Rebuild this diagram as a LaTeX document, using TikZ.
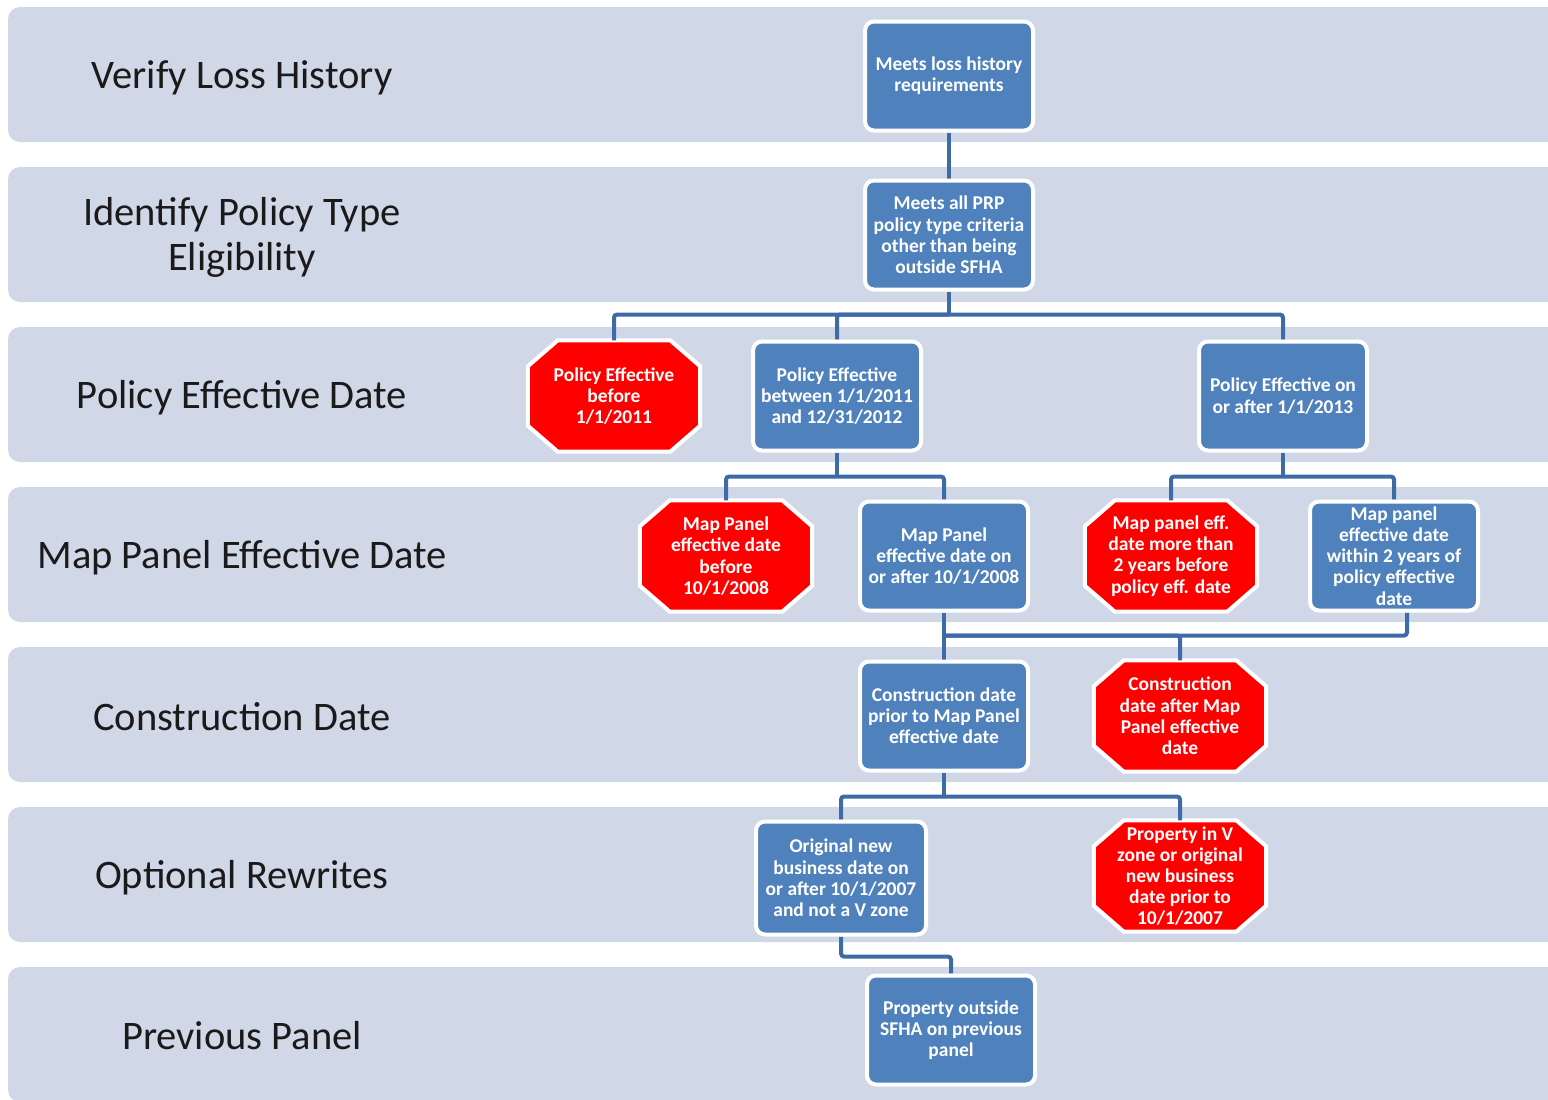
\documentclass[tikz,border=0pt]{standalone}
\usepackage{fontspec}
\setmainfont{Carlito}
\pgfdeclarelayer{bands}
\pgfdeclarelayer{mid}
\pgfsetlayers{bands,mid,main}
\definecolor{bandc}{HTML}{D0D8E8}
\definecolor{boxc}{HTML}{4F81BD}
\definecolor{linec}{HTML}{3D6BA6}
\definecolor{stopc}{HTML}{FF0000}
\definecolor{labc}{HTML}{1A1A1A}
\tikzset{
  band/.style={fill=bandc, rounded corners=12pt},
  lab/.style={font=\fontsize{40.5}{45}\selectfont, align=center, text=labc, inner sep=0pt},
  okbox/.style={draw=white, line width=4pt, fill=boxc, rounded corners=9pt,
    minimum width=168pt, minimum height=109pt, align=center, text=white,
    font=\bfseries\fontsize{19.5}{21.2}\selectfont, inner sep=1pt},
  stopbox/.style={minimum width=172pt, minimum height=111pt, align=center, text=white,
    font=\bfseries\fontsize{19.5}{21.2}\selectfont, inner sep=1pt},
  octo/.style={draw=white, line width=4pt, fill=stopc, line join=miter},
  conn/.style={draw=linec, line width=4pt, rounded corners=3pt},
}
\newcommand\octofill[1]{%
  \path[octo] ([xshift=30pt]#1.north west) -- ([xshift=-30pt]#1.north east)
    -- ([yshift=-26pt]#1.north east) -- ([yshift=26pt]#1.south east)
    -- ([xshift=-30pt]#1.south east) -- ([xshift=30pt]#1.south west)
    -- ([yshift=26pt]#1.south west) -- ([yshift=-26pt]#1.north west) -- cycle;}
\begin{document}
\begin{tikzpicture}[x=1pt,y=-1pt]
\useasboundingbox (0,0) rectangle (1548,1100);
\begin{pgfonlayer}{bands}
\foreach \yy in {7,167,327,487,647,807,967}
  \fill[band] (8,\yy) rectangle (1590,\yy+135);
\end{pgfonlayer}

% lane labels
\node[lab] (l1) at (242,78)  {Verify Loss History};
\node[lab] (l2) at (242,237) {Identify Policy Type\\Eligibility};
\node[lab] (l3) at (242,398) {Policy Effective Date};
\node[lab] (l4) at (242,558) {Map Panel Effective Date};
\node[lab] (l5) at (242,717) {Construction Date};
\node[lab] (l6) at (242,878) {Optional Rewrites};
\node[lab] (l7) at (242,1036) {Previous Panel};

% boxes
\node[okbox] (n1) at (949,76) {Meets loss history\\requirements};
\node[okbox] (n2) at (949,235) {Meets all PRP\\policy type criteria\\other than being\\outside SFHA};
\node[stopbox] (n3) at (614,396) {Policy Effective\\before\\1/1/2011};
\node[okbox] (n4) at (837,396) {Policy Effective\\between 1/1/2011\\and 12/31/2012};
\node[okbox] (n5) at (1283,396) {Policy Effective on\\or after 1/1/2013};
\node[stopbox] (n6) at (726,556) {Map Panel\\effective date\\before\\10/1/2008};
\node[okbox] (n7) at (944,556) {Map Panel\\effective date on\\or after 10/1/2008};
\node[stopbox] (n8) at (1171,556) {Map panel eff.\\date more than\\2 years before\\policy eff. date};
\node[okbox] (n9) at (1394,556) {Map panel\\effective date\\within 2 years of\\policy effective\\date};
\node[okbox] (n10) at (944,716) {Construction date\\prior to Map Panel\\effective date};
\node[stopbox] (n11) at (1180,716) {Construction\\date after Map\\Panel effective\\date};
\node[okbox, minimum width=170pt, minimum height=113pt] (n12) at (841,878) {Original new\\business date on\\or after 10/1/2007\\and not a V zone};
\node[stopbox] (n13) at (1180,876) {Property in V\\zone or original\\new business\\date prior to\\10/1/2007};
\node[okbox] (n14) at (951,1030) {Property outside\\SFHA on previous\\panel};

\begin{pgfonlayer}{mid}
\octofill{n3}
\octofill{n6}
\octofill{n8}
\octofill{n11}
\octofill{n13}
% connectors
\draw[conn] (n1.south) -- (n2.north);
\draw[conn] (n2.south) -- ++(0,23) coordinate (b1);
\draw[conn] (n3.north) |- (b1) -| (n5.north);
\draw[conn] (n4.north) |- (b1);
\draw[conn] (n4.south) -- ++(0,24) coordinate (b2);
\draw[conn] (n6.north) |- (b2) -| (n7.north);
\draw[conn] (n5.south) -- ++(0,24) coordinate (b3);
\draw[conn] (n8.north) |- (b3) -| (n9.north);
\draw[conn] (n7.south) -- (n10.north);
\path (n7.south) ++(0,23) coordinate (b4);
\draw[conn] ([xshift=13pt]n9.south) |- (b4);
\draw[conn] (n11.north) |- (b4);
\draw[conn] (n10.south) -- ++(0,24) coordinate (b5);
\draw[conn] (n12.north) |- (b5) -| (n13.north);
\draw[conn] (n12.south) -- ++(0,20) -| (n14.north);
\end{pgfonlayer}
\end{tikzpicture}
\end{document}
